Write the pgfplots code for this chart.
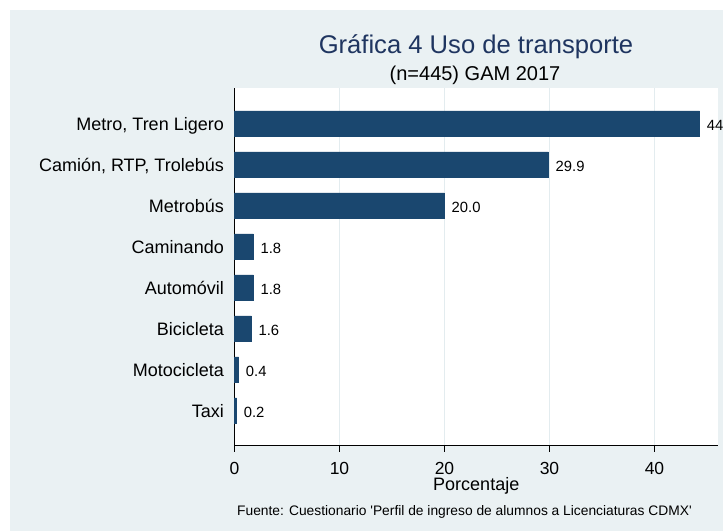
\documentclass[border=0pt]{standalone}
\usepackage{pgfplots}
\pgfplotsset{compat=1.18}
\usepackage{fontspec}
\setmainfont{Liberation Sans}
\definecolor{bgc}{HTML}{EAF1F3}
\definecolor{barc}{HTML}{1A476F}
\definecolor{titc}{HTML}{1F3560}
\definecolor{gridc}{HTML}{E3ECEF}
\begin{document}
\begin{tikzpicture}[x=1bp,y=1bp]
\useasboundingbox (0,0) rectangle (723,531);
\fill[white] (0,0) rectangle (723,531);
\fill[bgc] (10,0) rectangle (723,521);
\node[anchor=base, text=titc, inner sep=0pt, font=\fontsize{25.6bp}{30bp}\selectfont] at (476,477) {Gráfica 4 Uso de transporte};
\node[anchor=base, inner sep=0pt, font=\fontsize{20bp}{24bp}\selectfont] at (475,450) {(n=445) GAM 2017};
\begin{axis}[
 at={(234.5bp,85bp)}, anchor=south west, scale only axis,
 width=483.5bp, height=358bp,
 xmin=0, xmax=46.05, ymin=0.134, ymax=8.866,
 xbar, bar width=25bp, clip=false,
 axis background/.style={fill=white},
 axis x line*=bottom, axis y line*=left,
 axis line style={black, line width=1bp, -},
 xtick={0,10,20,30,40},
 ytick={1,2,3,4,5,6,7,8},
 yticklabels={Taxi, Motocicleta, Bicicleta, Automóvil, Caminando, Metrobús, {Camión, RTP, Trolebús}, {Metro, Tren Ligero}},
 x tick style={black, line width=1bp},
 y tick style={draw=none},
 major tick length=6bp, tick align=outside,
 xmajorgrids, grid style={gridc, line width=1bp},
 /pgf/number format/assume math mode=true,
 xticklabel style={anchor=base, inner sep=0pt, yshift=-22.3bp, font=\fontsize{17.5bp}{20bp}\selectfont},
 yticklabel style={anchor=base east, inner sep=0pt, xshift=-4.5bp, yshift=-7.5bp, font=\fontsize{18bp}{21bp}\selectfont},
 xlabel={Porcentaje},
 xlabel style={at={(axis description cs:0.5,0)}, anchor=base, inner sep=0pt, yshift=-45bp, font=\fontsize{18bp}{21bp}\selectfont},
 point meta=x,
 nodes near coords={\pgfmathprintnumber[fixed, fixed zerofill, precision=1, assume math mode=true]{\pgfplotspointmeta}},
 nodes near coords style={anchor=base west, inner sep=0pt, xshift=7bp, yshift=-7bp, black, font=\fontsize{14.8bp}{17bp}\selectfont},
]
\addplot[fill=barc, draw=barc, line width=0.5bp] coordinates {
 (44.3,8) (29.9,7) (20.0,6) (1.8,5) (1.8,4) (1.6,3) (0.4,2) (0.2,1)
};
\end{axis}
\node[anchor=base west, inner sep=0pt, font=\fontsize{13.8bp}{16bp}\selectfont] at (237,15) {Fuente: Cuestionario \textquotesingle Perfil de ingreso de alumnos a Licenciaturas CDMX\textquotesingle};
\end{tikzpicture}
\end{document}
